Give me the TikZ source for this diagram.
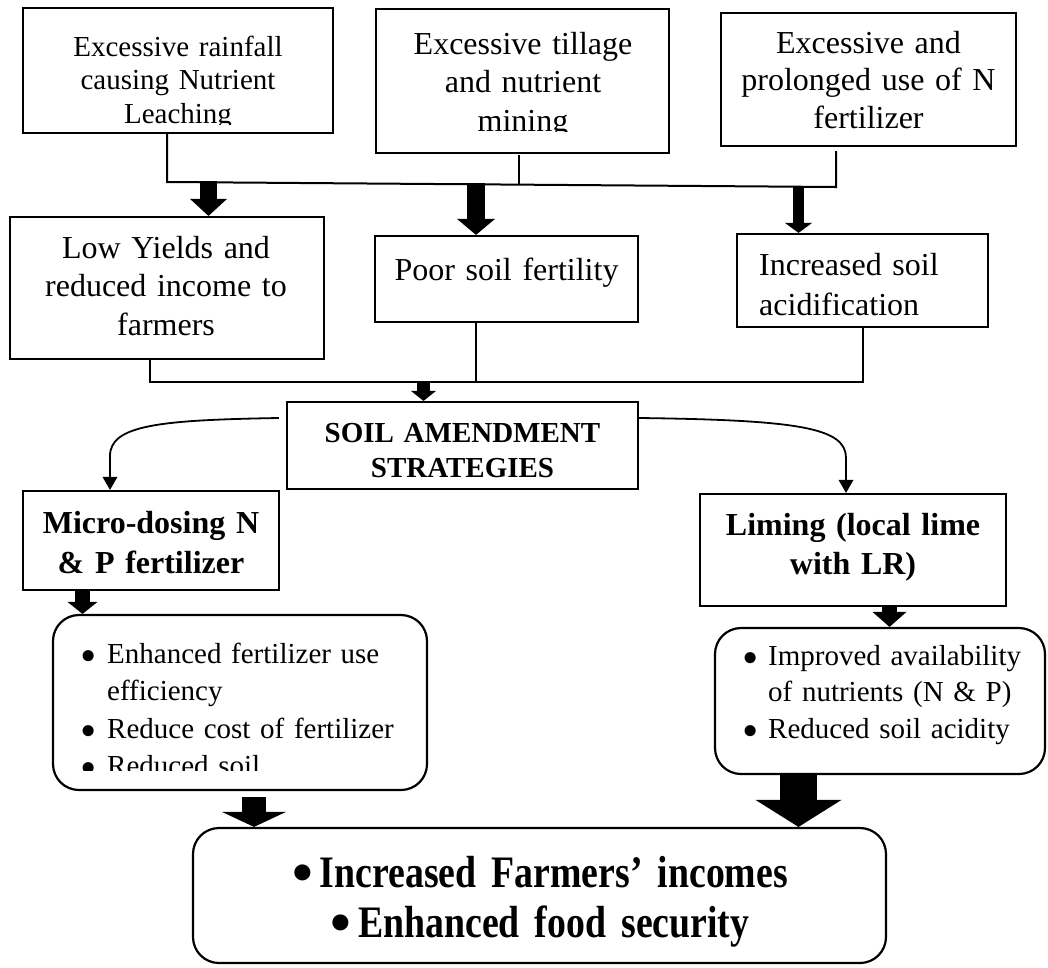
\documentclass[tikz,border=0pt]{standalone}
\usepackage{fontspec}
\setmainfont{Liberation Serif}
\newfontfamily\narrowserif{Liberation Serif}[FakeStretch=0.84,WordSpace=0.6]
\newfontfamily\bltfont{Liberation Serif}
\usetikzlibrary{arrows.meta}
\newcommand{\setfs}[2]{\fontsize{#1}{#2}\selectfont}
\newcommand{\blt}[3]{\raisebox{#1}{\scalebox{#2}{\bltfont\fontsize{#3}{#3}\selectfont •}}}
\tikzset{
  box/.style={draw,line width=2.2pt,inner sep=0pt},
  rbox/.style={box,rounded corners=26pt},
  txt/.style={inner sep=0pt,anchor=base,align=center},
  ltxt/.style={inner sep=0pt,anchor=base west,align=left},
  link/.style={line width=2pt},
  fat/.style n args={3}{line width=#1pt,-{Triangle[width=#2pt,length=#3pt,line width=0pt]}},
  curvy/.style={line width=1.8pt,-{Triangle[width=15pt,length=13pt,line width=0pt]}}
}
\begin{document}
\begin{tikzpicture}[x=1pt,y=-1pt]
  \useasboundingbox (0,0) rectangle (1048,967);
  % causes
  \node[box,minimum width=310pt,minimum height=125pt] (rain) at (178,70.5) {};
  \node[box,minimum width=293pt,minimum height=144pt] (till) at (522.5,81) {};
  \node[box,minimum width=295pt,minimum height=133pt] (nfert) at (868.5,79.5) {};
  \begin{scope}
    \clip (24,9) rectangle (332,124);
    \node[txt,text width=300pt,font=\setfs{29}{33.5}] (rainT) at (178,56) {Excessive rainfall\\causing Nutrient\\Leaching};
  \end{scope}
  \begin{scope}
    \clip (377,10) rectangle (668,131.5);
    \node[txt,text width=285pt,font=\setfs{32}{38.5}] (tillT) at (523,54) {Excessive tillage\\and nutrient\\mining};
  \end{scope}
  \node[txt,text width=285pt,font=\setfs{32}{37.5}] (nfertT) at (868.5,53) {Excessive and\\prolonged use of N\\fertilizer};
  % effects
  \node[box,minimum width=314pt,minimum height=142pt] (lowy) at (167,288) {};
  \node[txt,text width=300pt,font=\setfs{32}{38.5}] (lowyT) at (166,258) {Low Yields and\\reduced income to\\farmers};
  \node[box,minimum width=263pt,minimum height=86pt] (poor) at (506.5,279) {};
  \node[txt,text width=250pt,font=\setfs{32}{38}] (poorT) at (506.5,280) {Poor soil fertility};
  \node[box,minimum width=251pt,minimum height=93pt] (acid) at (862.5,280.5) {};
  \node[ltxt,text width=220pt,font=\setfs{32}{40}] (acidT) at (759,275) {Increased soil\\acidification};
  % strategies
  \node[box,minimum width=351pt,minimum height=87pt] (soil) at (462.5,445.5) {};
  \node[txt,text width=340pt,font=\bfseries\setfs{29}{35}] (soilT) at (462.5,442) {SOIL AMENDMENT\\STRATEGIES};
  \node[box,minimum width=256pt,minimum height=99pt] (micro) at (151,540.5) {};
  \node[txt,text width=250pt,font=\bfseries\setfs{32}{40}] (microT) at (151,533) {Micro-dosing N\\\& P fertilizer};
  \node[box,minimum width=306pt,minimum height=112pt] (lime) at (853,550) {};
  \node[txt,text width=300pt,font=\bfseries\setfs{32}{39}] (limeT) at (853,535) {Liming (local lime\\with LR)};
  % benefits
  \node[rbox,minimum width=374pt,minimum height=175pt] (benL) at (240,702.5) {};
  \begin{scope}
    \clip (54,616) rectangle (426,770);
    \node[ltxt,text width=330pt,font=\setfs{29}{37.5}] (benLT) at (80,663) {\makebox[27pt][l]{\blt{-8pt}{1.6}{29}}Enhanced fertilizer use\\\hspace*{27pt}efficiency\\\makebox[27pt][l]{\blt{-8pt}{1.6}{29}}Reduce cost of fertilizer\\\makebox[27pt][l]{\blt{-8pt}{1.6}{29}}Reduced soil};
  \end{scope}
  \node[rbox,minimum width=330pt,minimum height=146pt] (benR) at (880,701) {};
  \node[ltxt,text width=300pt,font=\setfs{29}{36.5}] (benRT) at (742,665) {\makebox[26pt][l]{\blt{-8pt}{1.6}{29}}Improved availability\\\hspace*{26pt}of nutrients (N \& P)\\\makebox[26pt][l]{\blt{-8pt}{1.6}{29}}Reduced soil acidity};
  \node[rbox,minimum width=693pt,minimum height=135pt] (goal) at (539.5,895.5) {};
  \node[txt,text width=660pt,font=\narrowserif\bfseries\setfs{45}{50}] (goalT) at (540,887) {\blt{-5pt}{1.6}{37}\hspace{7pt}Increased Farmers’ incomes\\\blt{-5pt}{1.6}{37}\hspace{7pt}Enhanced food security};
  % connectors
  \coordinate (busA) at (167,182);
  \coordinate (busB) at (836,187);
  \coordinate (busC) at (519,184.6);
  \draw[link] ([xshift=-11pt]rain.south) -- (busA) -- (busB) -- ([xshift=-32.5pt,yshift=-4pt]nfert.south);
  \draw[link] ([xshift=-3.5pt,yshift=-1pt]till.south) -- (busC);
  \coordinate (f1) at (208.5,181);
  \coordinate (f2) at (476,183);
  \coordinate (f3) at (798.5,186);
  \draw[fat={17}{37}{17}] (f1) -- (f1 |- lowy.north);
  \draw[fat={18}{38}{16}] (f2) -- (f2 |- poor.north);
  \draw[fat={11}{27}{10}] (f3) -- (f3 |- acid.north);
  \coordinate (busD) at (150,382);
  \coordinate (busE) at (862.5,382);
  \draw[link] ([xshift=-17pt]lowy.south) -- (busD) -- (busE) -- (acid.south);
  \draw[link] ([xshift=-31pt]poor.south) -- ++(0,60);
  \coordinate (f4) at (423.5,381);
  \draw[fat={13}{25}{10}] (f4) -- (f4 |- soil.north);
  \coordinate (cL) at (110,456);
  \coordinate (cR) at (846,458);
  \draw[curvy] ([xshift=-7pt,yshift=27.5pt]soil.west) .. controls (160,420) and (110,425) .. (cL) -- (cL |- micro.north);
  \draw[curvy] ([yshift=27.5pt]soil.east) .. controls (800,420) and (846,428) .. (cR) -- (cR |- lime.north);
  \coordinate (f5) at (82.5,590);
  \coordinate (f6) at (889.5,606);
  \coordinate (f7) at (254,797);
  \coordinate (f8) at (798.5,775);
  \draw[fat={15}{30}{12}] (f5) -- (f5 |- benL.north);
  \draw[fat={15}{34}{15}] (f6) -- (f6 |- benR.north);
  \draw[fat={24}{64}{15}] (f7) -- (f7 |- goal.north);
  \draw[fat={37}{86}{27}] (f8) -- (f8 |- goal.north);
\end{tikzpicture}
\end{document}
